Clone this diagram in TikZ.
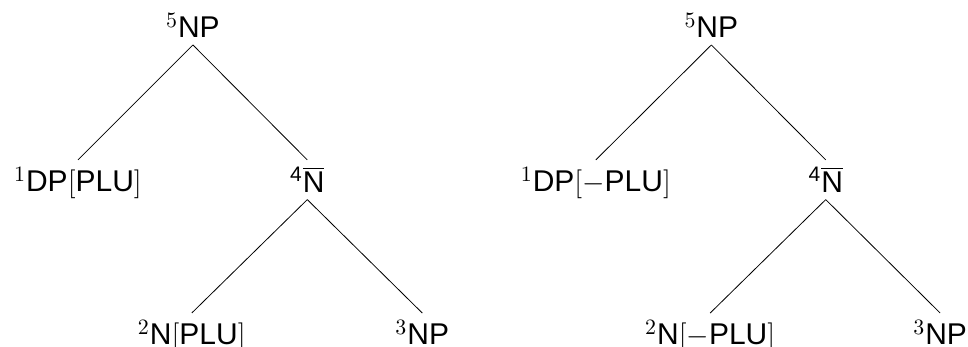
\documentclass[tikz,border=0pt]{standalone}
\usepackage{fontspec}
\setsansfont{Liberation Sans}
\tikzset{lbl/.style={inner sep=3.5pt,font=\fontsize{15}{18}\selectfont\sffamily}}
\begin{document}
\begin{tikzpicture}
\useasboundingbox (0,0) rectangle (17.01,6.08);
% plural tree
\node[lbl,anchor=south] (np5) at (3.39,5.29) {$^5$NP};
\node[lbl,anchor=north] (dp1) at (1.37,3.27) {$^1$DP$[$PLU$]$};
\node[lbl,anchor=north] (nb4) at (5.40,3.27) {\textsuperscript{4}$\overline{\mbox{N}}$};
\node[lbl,anchor=north] (n2) at (3.37,0.58) {$^2$N$[$PLU$]$};
\node[lbl,anchor=north] (np3) at (7.42,0.58) {$^3$NP};
\draw (np5.south)--(dp1.north);
\draw (np5.south)--(nb4.north);
\draw (nb4.south)--(n2.north);
\draw (nb4.south)--(np3.north);
% non-plural tree
\node[lbl,anchor=south] (np5b) at (12.50,5.29) {$^5$NP};
\node[lbl,anchor=north] (dp1b) at (10.47,3.27) {$^1$DP$[-$PLU$]$};
\node[lbl,anchor=north] (nb4b) at (14.51,3.27) {\textsuperscript{4}$\overline{\mbox{N}}$};
\node[lbl,anchor=north] (n2b) at (12.48,0.58) {$^2$N$[-$PLU$]$};
\node[lbl,anchor=north] (np3b) at (16.52,0.58) {$^3$NP};
\draw (np5b.south)--(dp1b.north);
\draw (np5b.south)--(nb4b.north);
\draw (nb4b.south)--(n2b.north);
\draw (nb4b.south)--(np3b.north);
\end{tikzpicture}
\end{document}
